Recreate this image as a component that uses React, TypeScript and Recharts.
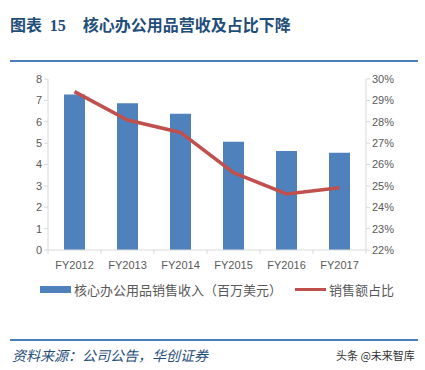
import { ComposedChart, Bar, Line, XAxis, YAxis } from "recharts";

const years = ["FY2012", "FY2013", "FY2014", "FY2015", "FY2016", "FY2017"];
const revenue = [7.28, 6.86, 6.37, 5.06, 4.63, 4.55];
const share = [29.41, 28.08, 27.5, 25.62, 24.62, 24.91];
const leftTicks = [0, 1, 2, 3, 4, 5, 6, 7, 8];
const rightTicks = [22, 23, 24, 25, 26, 27, 28, 29, 30];

const data = years.map((y, i) => ({ year: y, revenue: revenue[i], share: share[i] }));

const BLUE = "#4F81BD";
const RED = "#C0504D";
const AXIS = "#D9D9D9";
const TICK = { fontSize: 11, fill: "#595959", fontFamily: "Liberation Sans, Arial, sans-serif" };
const CJK = "'Noto Sans CJK SC', sans-serif";
const BAND = 53;

// category label plus an Excel-style tick mark at the band boundary
const XTick = (props: any) => {
  const { x, y, payload, index } = props;
  const axisY = y - 11;
  return (
    <g>
      <line x1={x - BAND / 2} x2={x - BAND / 2} y1={axisY} y2={axisY + 4} stroke={AXIS} />
      {index === years.length - 1 && (
        <line x1={x + BAND / 2} x2={x + BAND / 2} y1={axisY} y2={axisY + 4} stroke={AXIS} />
      )}
      <text x={x} y={y} dy="0.71em" textAnchor="middle" {...TICK}>
        {payload.value}
      </text>
    </g>
  );
};

const App = () => {
  return (
    <div style={{ position: "absolute", left: 0, top: 0, width: 425, height: 370, background: "#fff", overflow: "hidden" }}>
      <div style={{ position: "absolute", left: 10, top: 12, fontFamily: CJK, fontWeight: 700, fontSize: 16, color: "#1F4E79", whiteSpace: "nowrap" }}>
        图表 <span style={{ fontFamily: "'Liberation Serif', serif", marginLeft: 4 }}>15</span>
        <span style={{ marginLeft: 17 }}>核心办公用品营收及占比下降</span>
      </div>
      <div style={{ position: "absolute", left: 10, top: 60, width: 408, height: 2, background: "#4A7EBB" }} />

      <div style={{ position: "absolute", left: 0, top: 0 }}>
        <ComposedChart width={425} height={274} data={data} margin={{ top: 79, right: 14, bottom: 2, left: 8 }}>
          <XAxis
            dataKey="year"
            tick={<XTick />}
            tickLine={false}
            tickSize={4}
            tickMargin={7}
            axisLine={{ stroke: AXIS }}
            height={22}
            interval={0}
          />
          <YAxis
            yAxisId="left"
            domain={[0, 8]}
            ticks={leftTicks}
            tick={TICK}
            width={40}
            tickSize={4}
            tickLine={{ stroke: AXIS }}
            axisLine={{ stroke: AXIS }}
          />
          <YAxis
            yAxisId="right"
            orientation="right"
            domain={[22, 30]}
            ticks={rightTicks}
            tickFormatter={(v: number) => `${v}%`}
            tick={TICK}
            width={45}
            tickSize={4}
            tickLine={{ stroke: AXIS }}
            axisLine={{ stroke: AXIS }}
          />
          <Bar yAxisId="left" dataKey="revenue" fill={BLUE} barSize={21} isAnimationActive={false} />
          <Line yAxisId="right" dataKey="share" stroke={RED} strokeWidth={3.5} dot={false} type="linear" isAnimationActive={false} />
        </ComposedChart>
      </div>

      <div style={{ position: "absolute", left: 40, top: 280, display: "flex", alignItems: "center", fontFamily: CJK, fontSize: 13, color: "#595959", whiteSpace: "nowrap" }}>
        <span style={{ display: "inline-block", width: 31, height: 7, background: BLUE, marginRight: 3 }} />
        <span style={{ marginRight: 13 }}>核心办公用品销售收入（百万美元）</span>
        <span style={{ display: "inline-block", width: 31, height: 3, background: RED, marginRight: 3 }} />
        <span>销售额占比</span>
      </div>

      <div style={{ position: "absolute", left: 10, top: 339, width: 408, height: 2, background: "#4A7EBB" }} />
      <div style={{ position: "absolute", left: 12, top: 345, fontFamily: CJK, fontStyle: "italic", fontSize: 14, color: "#1F4E79", whiteSpace: "nowrap" }}>
        资料来源：公司公告，华创证券
      </div>
      <div style={{ position: "absolute", left: 336, top: 347, fontFamily: CJK, fontSize: 11, color: "#333", whiteSpace: "nowrap" }}>
        头条 @未来智库
      </div>
    </div>
  );
};

export default App;
